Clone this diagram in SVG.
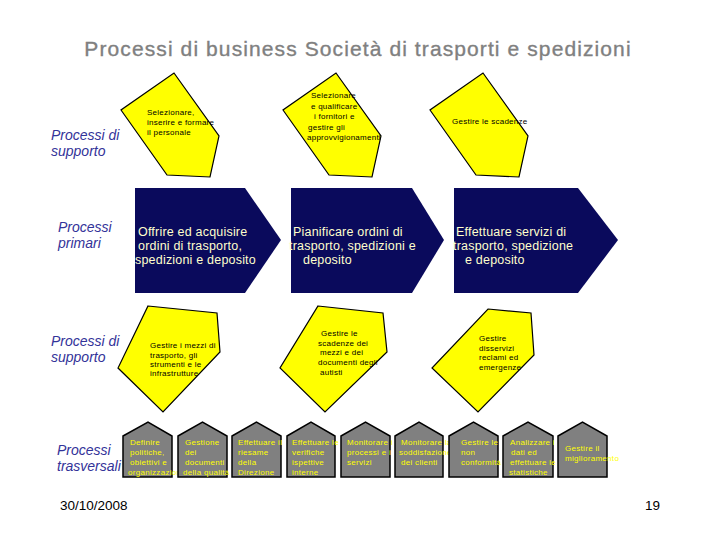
<svg xmlns="http://www.w3.org/2000/svg" width="720" height="540" viewBox="0 0 720 540">
<style>
.title{font-family:"Liberation Sans",Arial,sans-serif;font-size:21px;letter-spacing:1.1px;fill:#808080;stroke:#808080;stroke-width:0.35}
.lab{font-family:"Liberation Sans",Arial,sans-serif;font-size:14px;font-style:italic;fill:#333399}
.yel{fill:#FFFF00;stroke:#000;stroke-width:1.2}
.ytx{font-family:"Liberation Sans",Arial,sans-serif;font-size:8px;letter-spacing:0.25px;fill:#000}
.chev{fill:#0A0A5C}
.ctx{font-family:"Liberation Sans",Arial,sans-serif;font-size:12.5px;letter-spacing:0.2px;fill:#FFFFCC}
.house{fill:#808080;stroke:#000;stroke-width:1.5}
.htx{font-family:"Liberation Sans",Arial,sans-serif;font-size:8px;letter-spacing:0.3px;fill:#FFFF00}
.foot{font-family:"Liberation Sans",Arial,sans-serif;font-size:13.5px;fill:#000}
</style>
<rect width="720" height="540" fill="#fff"/>
<text class="title" x="358" y="56" text-anchor="middle">Processi di business Società di trasporti e spedizioni</text>

<g id="labels">
<text class="lab" x="51" y="140">Processi di</text>
<text class="lab" x="51" y="156">supporto</text>
<text class="lab" x="58" y="232">Processi</text>
<text class="lab" x="58" y="248">primari</text>
<text class="lab" x="51" y="346">Processi di</text>
<text class="lab" x="51" y="362">supporto</text>
<text class="lab" x="57" y="455">Processi</text>
<text class="lab" x="57" y="471">trasversali</text>
</g>

<g id="connectors"></g>

<g id="sup1">
<polygon class="yel" points="174,73 219,136 210,177 167,175 121,110"/>
<text class="ytx" x="147" y="115">Selezionare,</text>
<text class="ytx" x="147" y="125">inserire e formare</text>
<text class="ytx" x="147" y="135">il personale</text>
</g>
<g id="sup2">
<polygon class="yel" points="336,73 381,136 372,177 329,175 283,110"/>
<text class="ytx" x="311" y="98">Selezionare</text>
<text class="ytx" x="311" y="108.5">e qualificare</text>
<text class="ytx" x="314" y="119">i fornitori e</text>
<text class="ytx" x="308" y="129.5">gestire gli</text>
<text class="ytx" x="307" y="140">approvvigionamenti</text>
</g>
<g id="sup3">
<polygon class="yel" points="483,73 528,136 519,177 476,175 430,110"/>
<text class="ytx" x="452" y="124">Gestire le scadenze</text>
</g>

<g id="prim1">
<polygon class="chev" points="135,188 245,188 281,240 245,293 135,293"/>
<text class="ctx" x="138" y="236">Offrire ed acquisire</text>
<text class="ctx" x="138" y="250">ordini di trasporto,</text>
<text class="ctx" x="135" y="264">spedizioni e deposito</text>
</g>
<g id="prim2">
<polygon class="chev" points="291,188 412,188 444,240 412,293 291,293"/>
<text class="ctx" x="293" y="236">Pianificare ordini di</text>
<text class="ctx" x="289" y="250">trasporto, spedizioni e</text>
<text class="ctx" x="303" y="264">deposito</text>
</g>
<g id="prim3">
<polygon class="chev" points="454,188 578,188 618,240 578,293 454,293"/>
<text class="ctx" x="456" y="236">Effettuare servizi di</text>
<text class="ctx" x="453" y="250">trasporto, spedizione</text>
<text class="ctx" x="465" y="264">e deposito</text>
</g>

<g id="supA">
<polygon class="yel" points="148,306 217,313 220,352 163,412 118,368"/>
<text class="ytx" x="150" y="348">Gestire i mezzi di</text>
<text class="ytx" x="150" y="358">trasporto, gli</text>
<text class="ytx" x="150" y="367">strumenti e le</text>
<text class="ytx" x="150" y="376">infrastrutture</text>
</g>
<g id="supB">
<polygon class="yel" points="318,306 383,313 387,352 325,412 280,368"/>
<text class="ytx" x="321" y="336">Gestire le</text>
<text class="ytx" x="318" y="346">scadenze dei</text>
<text class="ytx" x="320" y="355">mezzi e dei</text>
<text class="ytx" x="318" y="365">documenti degli</text>
<text class="ytx" x="320" y="375">autisti</text>
</g>
<g id="supC">
<polygon class="yel" points="488,309 531,313 534,355 478,412 432,368"/>
<text class="ytx" x="479" y="341">Gestire</text>
<text class="ytx" x="479" y="351">disservizi</text>
<text class="ytx" x="479" y="360">reclami ed</text>
<text class="ytx" x="479" y="370">emergenze</text>
</g>

<g id="tr1">
<polygon class="house" points="123,436 148,422 172,436 172,477 123,477"/>
<text class="htx" x="130" y="445">Definire</text>
<text class="htx" x="130" y="455">politiche,</text>
<text class="htx" x="130" y="465">obiettivi e</text>
<text class="htx" x="128" y="475">organizzazione</text>
</g>
<g id="tr2">
<polygon class="house" points="178,436 202.5,422 227,436 227,477 178,477"/>
<text class="htx" x="185" y="445">Gestione</text>
<text class="htx" x="185" y="455">dei</text>
<text class="htx" x="185" y="465">documenti</text>
<text class="htx" x="183" y="475">della qualità</text>
</g>
<g id="tr3">
<polygon class="house" points="232,436 256.5,422 281,436 281,477 232,477"/>
<text class="htx" x="238" y="445">Effettuare il</text>
<text class="htx" x="238" y="455">riesame</text>
<text class="htx" x="238" y="465">della</text>
<text class="htx" x="238" y="475">Direzione</text>
</g>
<g id="tr4">
<polygon class="house" points="287,436 311,422 335,436 335,477 287,477"/>
<text class="htx" x="292" y="445">Effettuare le</text>
<text class="htx" x="292" y="455">verifiche</text>
<text class="htx" x="292" y="465">ispettive</text>
<text class="htx" x="292" y="475">interne</text>
</g>
<g id="tr5">
<polygon class="house" points="341,436 365.5,422 390,436 390,477 341,477"/>
<text class="htx" x="347" y="445">Monitorare i</text>
<text class="htx" x="347" y="455">processi e i</text>
<text class="htx" x="347" y="465">servizi</text>
</g>
<g id="tr6">
<polygon class="house" points="395,436 419,422 443,436 443,477 395,477"/>
<text class="htx" x="401" y="445">Monitorare la</text>
<text class="htx" x="399" y="455">soddisfazione</text>
<text class="htx" x="401" y="465">dei clienti</text>
</g>
<g id="tr7">
<polygon class="house" points="449,436 473.5,422 498,436 498,477 449,477"/>
<text class="htx" x="461" y="445">Gestire le</text>
<text class="htx" x="461" y="455">non</text>
<text class="htx" x="461" y="465">conformità</text>
</g>
<g id="tr8">
<polygon class="house" points="503,436 528,422 553,436 553,477 503,477"/>
<text class="htx" x="510" y="445">Analizzare i</text>
<text class="htx" x="511" y="455">dati ed</text>
<text class="htx" x="510" y="465">effettuare le</text>
<text class="htx" x="509" y="475">statistiche</text>
</g>
<g id="tr9">
<polygon class="house" points="558,436 582.5,422 607,436 607,477 558,477"/>
<text class="htx" x="565" y="451">Gestire il</text>
<text class="htx" x="565" y="461">miglioramento</text>
</g>

<text class="foot" x="60" y="510">30/10/2008</text>
<text class="foot" x="645" y="510">19</text>
</svg>
